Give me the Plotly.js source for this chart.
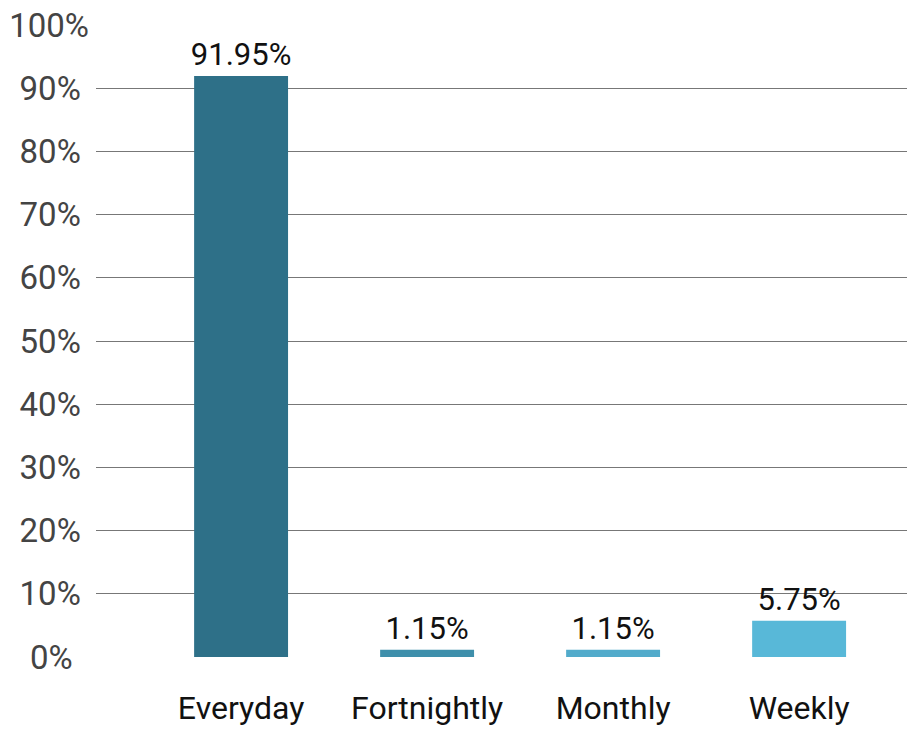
<!DOCTYPE html>
<html>
<head>
<meta charset="utf-8">
<script src="https://cdn.plot.ly/plotly-3.0.1.min.js"></script>
<style>html,body{margin:0;padding:0;background:#fff;}#chart{width:907px;height:734px;}</style>
</head>
<body>
<div id="chart"></div>
<script>
const categories = ["Everyday", "Fortnightly", "Monthly", "Weekly"];
const values = [91.95, 1.15, 1.15, 5.75];
const valueLabels = ["91.95%", "1.15%", "1.15%", "5.75%"];
const barColors = ["#2e7088", "#3e8fab", "#52abcb", "#58b8d8"];
const yTickVals = [0, 10, 20, 30, 40, 50, 60, 70, 80, 90, 100];
const yTickText = ["0%\u00A0\u00A0", "10%\u00A0", "20%\u00A0", "30%\u00A0", "40%\u00A0", "50%\u00A0", "60%\u00A0", "70%\u00A0", "80%\u00A0", "90%\u00A0", "100%"];

const trace = {
  type: "bar",
  x: categories,
  y: values,
  text: valueLabels,
  textposition: "outside",
  constraintext: "none",
  cliponaxis: false,
  textfont: {family: "Roboto", size: 31, color: "#111"},
  marker: {color: barColors},
  width: 0.505,
  hoverinfo: "none"
};

const layout = {
  width: 907,
  height: 734,
  margin: {l: 96, r: 0, t: 25, b: 77},
  paper_bgcolor: "#fff",
  plot_bgcolor: "#fff",
  showlegend: false,
  font: {family: "Roboto", size: 32, color: "#444"},
  xaxis: {
    range: [-0.78, 3.58],
    showgrid: false,
    zeroline: false,
    showline: false,
    ticks: "",
    ticklabelstandoff: 29,
    tickfont: {family: "Roboto", size: 32, color: "#111"}
  },
  yaxis: {
    range: [0, 100],
    tickvals: yTickVals,
    ticktext: yTickText,
    showgrid: true,
    gridcolor: "#777",
    gridwidth: 1,
    zeroline: false,
    showline: false,
    ticks: "",
    ticklabelstandoff: 6,
    tickfont: {family: "Roboto", size: 33, color: "#444"}
  }
};

Plotly.newPlot("chart", [trace], layout, {displayModeBar: false, staticPlot: true});
</script>
</body>
</html>
